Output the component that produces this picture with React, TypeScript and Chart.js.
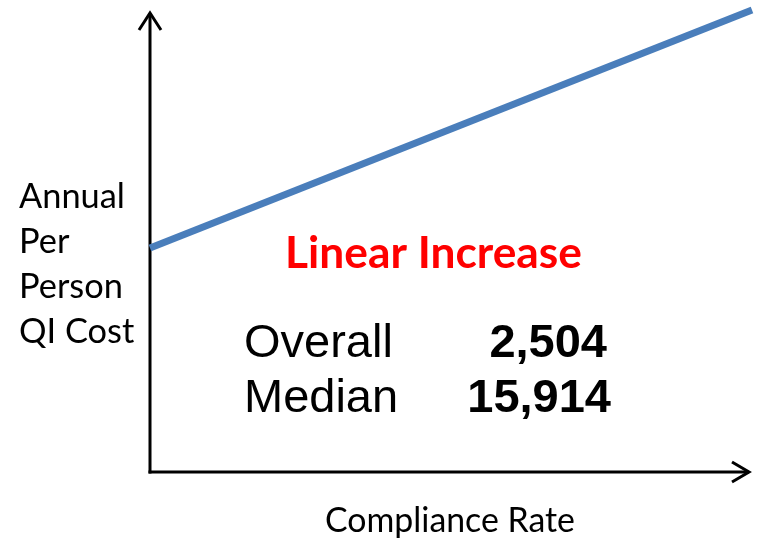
import React, { useEffect, useRef } from "react";
import { Chart, registerables } from "chart.js";

Chart.register(...registerables);

// Compliance rate (x) vs annual per-person QI cost (y), schematic scale 0..1
const complianceRate = [0, 1];
const qiCost = [0.485, 1.0];

const yAxisLabelLines = ["Annual", "Per", "Person", "QI Cost"];
const xAxisLabel = "Compliance Rate";
const trendTitle = "Linear Increase";
const statNames = ["Overall", "Median"];
const statValues = ["2,504", "15,914"];

const CAL = "Lato, 'Open Sans', 'DejaVu Sans', sans-serif";
const ARIAL = "'Liberation Sans', Arial, sans-serif";

function fitFont(ctx: CanvasRenderingContext2D, text: string, weight: string, family: string, width: number) {
  ctx.font = `${weight} 100px ${family}`;
  const w = ctx.measureText(text).width;
  const size = (100 * width) / w;
  ctx.font = `${weight} ${size}px ${family}`;
}

const decorations = {
  id: "decorations",
  beforeDatasetsDraw(chart: any) {
    const { ctx, chartArea } = chart;
    const left = chartArea.left;
    const bottom = chartArea.bottom;
    ctx.save();
    ctx.strokeStyle = "#000";
    ctx.lineWidth = 3;
    ctx.lineCap = "butt";
    // y axis with arrow
    ctx.beginPath();
    ctx.moveTo(left, bottom + 1.5);
    ctx.lineTo(left, 13);
    ctx.stroke();
    ctx.beginPath();
    ctx.moveTo(left - 11, 30);
    ctx.lineTo(left, 13);
    ctx.lineTo(left + 11, 30);
    ctx.stroke();
    // x axis with arrow
    ctx.beginPath();
    ctx.moveTo(left - 1.5, bottom);
    ctx.lineTo(749, bottom);
    ctx.stroke();
    ctx.beginPath();
    ctx.moveTo(732, bottom - 10);
    ctx.lineTo(749, bottom);
    ctx.lineTo(732, bottom + 10);
    ctx.stroke();
    ctx.restore();
  },
  afterDatasetsDraw(chart: any) {
    const { ctx } = chart;
    ctx.save();
    ctx.textBaseline = "alphabetic";
    ctx.fillStyle = "#000";

    // y axis title, left aligned lines
    ctx.textAlign = "left";
    fitFont(ctx, "Annual", "normal", CAL, 106);
    const yBase = [208, 253, 298, 343];
    yAxisLabelLines.forEach((t, i) => ctx.fillText(t, 19, yBase[i]));

    // x axis title
    ctx.textAlign = "center";
    fitFont(ctx, xAxisLabel, "normal", CAL, 250);
    ctx.fillText(xAxisLabel, 450, 532);

    // trend title
    ctx.fillStyle = "#ff0000";
    fitFont(ctx, trendTitle, "bold", CAL, 297);
    ctx.fillText(trendTitle, 433.5, 268);

    // statistics
    ctx.fillStyle = "#000";
    ctx.textAlign = "left";
    ctx.font = `normal 47px ${ARIAL}`;
    ctx.fillText(statNames[0], 244, 357);
    ctx.fillText(statNames[1], 244, 412);
    ctx.textAlign = "right";
    ctx.font = `bold 47px ${ARIAL}`;
    ctx.fillText(statValues[0], 607, 357);
    ctx.fillText(statValues[1], 611, 412);
    ctx.restore();
  },
};

export default function App() {
  const ref = useRef<HTMLCanvasElement>(null);
  useEffect(() => {
    document.body.style.margin = "0";
    const chart = new Chart(ref.current!, {
      type: "line",
      data: {
        datasets: [
          {
            data: complianceRate.map((x, i) => ({ x, y: qiCost[i] })),
            borderColor: "#4a7ebb",
            borderWidth: 7,
            pointRadius: 0,
            borderCapStyle: "butt",
            clip: false as any,
          },
        ],
      },
      options: {
        responsive: false,
        animation: false,
        layout: { padding: { left: 150, right: 7, top: 10, bottom: 66 } },
        plugins: { legend: { display: false }, tooltip: { enabled: false } },
        scales: {
          x: { type: "linear", min: 0, max: 1, display: false },
          y: { type: "linear", min: 0, max: 1, display: false },
        },
      },
      plugins: [decorations],
    });
    return () => chart.destroy();
  }, []);
  return (
    <div style={{ width: 759, height: 538, background: "#fff" }}>
      <canvas ref={ref} width={759} height={538} />
    </div>
  );
}
